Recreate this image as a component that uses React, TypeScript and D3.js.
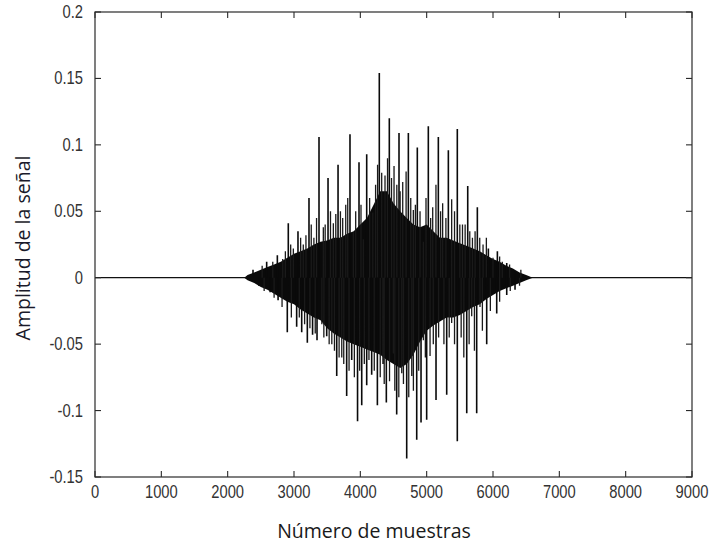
import React, { useEffect, useRef } from 'react'
import * as d3 from 'd3'

const xTicks = [0, 1000, 2000, 3000, 4000, 5000, 6000, 7000, 8000, 9000]
const yTicks = [-0.15, -0.1, -0.05, 0, 0.05, 0.1, 0.15, 0.2]

// dense part of the signal, read every 100 samples
const bodySamples = [
  2250, 2300, 2400, 2500, 2600, 2700, 2800, 2900, 3000, 3100, 3200, 3300, 3400, 3500, 3600,
  3700, 3800, 3900, 4000, 4100, 4200, 4300, 4400, 4500, 4600, 4700, 4800, 4900, 5000, 5100,
  5200, 5300, 5400, 5500, 5600, 5700, 5800, 5900, 6000, 6100, 6200, 6300, 6400, 6500, 6600,
]
const bodyTop = [
  0, 0.002, 0.004, 0.006, 0.008, 0.01, 0.012, 0.015, 0.018, 0.02, 0.022, 0.025, 0.027, 0.028, 0.03,
  0.03, 0.033, 0.035, 0.04, 0.045, 0.055, 0.065, 0.065, 0.056, 0.05, 0.045, 0.04, 0.038, 0.04, 0.035,
  0.03, 0.03, 0.028, 0.026, 0.024, 0.022, 0.02, 0.017, 0.014, 0.012, 0.009, 0.007, 0.004, 0.002, 0,
]
const bodyBottom = [
  0, -0.002, -0.004, -0.007, -0.009, -0.012, -0.015, -0.018, -0.02, -0.024, -0.027, -0.03, -0.032, -0.038, -0.042,
  -0.045, -0.048, -0.05, -0.052, -0.054, -0.056, -0.058, -0.062, -0.065, -0.068, -0.065, -0.058, -0.048, -0.04, -0.036,
  -0.033, -0.03, -0.03, -0.028, -0.025, -0.022, -0.02, -0.016, -0.013, -0.01, -0.008, -0.006, -0.004, -0.002, 0,
]

// [sample, amplitude] of the pitch peaks
const peaksUp: [number, number][] = [
  [2382, 0.006], [2588, 0.012], [2749, 0.017], [2914, 0.041], [3060, 0.035], [3226, 0.06],
  [3377, 0.106], [3513, 0.075], [3664, 0.085], [3844, 0.108], [3980, 0.087], [4096, 0.093],
  [4286, 0.154], [4437, 0.12], [4583, 0.109], [4724, 0.109], [4859, 0.098], [5025, 0.114],
  [5176, 0.106], [5327, 0.096], [5462, 0.112], [5619, 0.069], [5764, 0.053], [5930, 0.022],
  [6066, 0.02], [6207, 0.011], [6332, 0.004],
]
const peaksUpMinor: [number, number][] = [
  [2520, 0.009], [2680, 0.012], [2830, 0.014], [2870, 0.02], [2950, 0.025], [2990, 0.022],
  [3100, 0.03], [3140, 0.025], [3180, 0.032], [3260, 0.04], [3300, 0.03], [3340, 0.045],
  [3442, 0.038], [3470, 0.04], [3550, 0.05], [3593, 0.041], [3630, 0.048], [3700, 0.05],
  [3734, 0.045], [3780, 0.055], [3810, 0.06], [3895, 0.034], [3930, 0.05], [4010, 0.055],
  [4045, 0.029], [4140, 0.06], [4187, 0.049], [4230, 0.07], [4260, 0.085], [4322, 0.079],
  [4372, 0.077], [4410, 0.09], [4470, 0.075], [4508, 0.084], [4550, 0.07], [4600, 0.065],
  [4639, 0.072], [4690, 0.08], [4760, 0.06], [4799, 0.051], [4830, 0.055], [4900, 0.05],
  [4950, 0.027], [4990, 0.06], [5060, 0.045], [5091, 0.053], [5140, 0.07], [5210, 0.05],
  [5241, 0.056], [5290, 0.045], [5377, 0.059], [5420, 0.05], [5500, 0.04], [5540, 0.04],
  [5580, 0.04], [5650, 0.035], [5690, 0.03], [5730, 0.035], [5800, 0.03], [5850, 0.025],
  [5900, 0.03], [6000, 0.015], [6100, 0.016], [6140, 0.012], [6250, 0.01], [6420, 0.006],
]
const peaksDown: [number, number][] = [
  [2470, -0.006], [2640, -0.011], [2760, -0.017], [2899, -0.041], [3040, -0.037], [3116, -0.041],
  [3201, -0.049], [3280, -0.043], [3347, -0.047], [3493, -0.044], [3644, -0.074], [3794, -0.089],
  [3870, -0.062], [3958, -0.108], [4021, -0.096], [4096, -0.081], [4171, -0.073], [4257, -0.096],
  [4392, -0.094], [4548, -0.103], [4699, -0.136], [4850, -0.122], [4915, -0.109], [5000, -0.107],
  [5141, -0.092], [5302, -0.088], [5462, -0.123], [5604, -0.102], [5754, -0.102], [5905, -0.05],
  [6056, -0.027], [6207, -0.013], [6332, -0.009],
]
const peaksDownMinor: [number, number][] = [
  [2550, -0.01], [2700, -0.015], [2820, -0.022], [2960, -0.03], [3080, -0.03], [3160, -0.035],
  [3240, -0.038], [3320, -0.042], [3420, -0.035], [3450, -0.045], [3530, -0.05], [3570, -0.05],
  [3610, -0.055], [3680, -0.06], [3720, -0.06], [3750, -0.065], [3830, -0.07], [3910, -0.075],
  [3990, -0.07], [4060, -0.065], [4130, -0.062], [4210, -0.07], [4300, -0.075], [4340, -0.065],
  [4360, -0.08], [4440, -0.078], [4498, -0.057], [4520, -0.085], [4580, -0.09], [4624, -0.072],
  [4650, -0.08], [4730, -0.09], [4775, -0.074], [4800, -0.085], [4880, -0.07], [4950, -0.047],
  [4980, -0.06], [5051, -0.059], [5100, -0.05], [5180, -0.045], [5260, -0.05], [5340, -0.045],
  [5377, -0.034], [5420, -0.05], [5520, -0.045], [5560, -0.06], [5640, -0.05], [5679, -0.029],
  [5720, -0.055], [5804, -0.022], [5840, -0.04], [5960, -0.025], [6100, -0.018], [6260, -0.01],
  [6400, -0.006],
]

const W = 711
const H = 550
const margin = { left: 95, right: 19, top: 12, bottom: 73 }
const tickFont = "'Liberation Sans', Arial, sans-serif"
const labelFont = "'Open Sans', 'Noto Sans', sans-serif"

export default function App() {
  const ref = useRef<SVGSVGElement>(null)

  useEffect(() => {
    const svg = d3.select(ref.current)
    svg.selectAll('*').remove()

    const x = d3.scaleLinear().domain([0, 9000]).range([margin.left, W - margin.right])
    const y = d3.scaleLinear().domain([-0.15, 0.2]).range([H - margin.bottom, margin.top])
    const [x0, x1] = x.range()
    const [y0, y1] = y.range()

    svg.append('rect').attr('width', W).attr('height', H).attr('fill', '#fff')

    // flat line where there is no sound
    svg.append('path')
      .attr('d', d3.line()([[x(0), y(0)], [x(9000), y(0)]]))
      .attr('stroke', '#111')
      .attr('stroke-width', 1.3)

    const area = d3.area<number>()
      .x((d, i) => x(bodySamples[i]))
      .y0((d, i) => y(bodyBottom[i]))
      .y1(d => y(d))
    svg.append('path').attr('d', area(bodyTop)).attr('fill', '#0a0a0a')

    const spikes = (list: [number, number][]) =>
      list.map(([s, v]) => `M${x(s)},${y(0)}V${y(v)}`).join('')

    svg.append('path').attr('d', spikes([...peaksUpMinor, ...peaksDownMinor]))
      .attr('stroke', '#1a1a1a').attr('stroke-width', 1.3).attr('fill', 'none')
    svg.append('path').attr('d', spikes([...peaksUp, ...peaksDown]))
      .attr('stroke', '#0a0a0a').attr('stroke-width', 1.6).attr('fill', 'none')

    // box with inward ticks on all four sides
    svg.append('rect')
      .attr('x', x0).attr('y', y1)
      .attr('width', x1 - x0).attr('height', y0 - y1)
      .attr('fill', 'none').attr('stroke', '#2a2a2a').attr('stroke-width', 1.2)

    const tl = 6
    const ticks = svg.append('g').attr('stroke', '#2a2a2a').attr('stroke-width', 1.1)
    xTicks.forEach(t => {
      ticks.append('line').attr('x1', x(t)).attr('x2', x(t)).attr('y1', y0).attr('y2', y0 - tl)
      ticks.append('line').attr('x1', x(t)).attr('x2', x(t)).attr('y1', y1).attr('y2', y1 + tl)
    })
    yTicks.forEach(t => {
      ticks.append('line').attr('x1', x0).attr('x2', x0 + tl).attr('y1', y(t)).attr('y2', y(t))
      ticks.append('line').attr('x1', x1).attr('x2', x1 - tl).attr('y1', y(t)).attr('y2', y(t))
    })

    // narrow tick labels, like the MATLAB export
    svg.append('g')
      .selectAll('text')
      .data(xTicks)
      .join('text')
      .attr('transform', d => `translate(${x(d)}, ${y0 + 21}) scale(0.82, 1)`)
      .attr('text-anchor', 'middle')
      .style('font-family', tickFont)
      .style('font-size', '18px')
      .attr('fill', '#333')
      .text(d => String(d))

    svg.append('g')
      .selectAll('text')
      .data(yTicks)
      .join('text')
      .attr('transform', d => `translate(${x0 - 12}, ${y(d) + 6}) scale(0.82, 1)`)
      .attr('text-anchor', 'end')
      .style('font-family', tickFont)
      .style('font-size', '18px')
      .attr('fill', '#333')
      .text(d => String(+d.toFixed(2)))

    svg.append('text')
      .attr('x', 374)
      .attr('y', 538)
      .attr('text-anchor', 'middle')
      .style('font-family', labelFont)
      .style('font-size', '19.5px')
      .attr('fill', '#1a1a1a')
      .text('Número de muestras')

    svg.append('text')
      .attr('transform', 'translate(30, 248) rotate(-90)')
      .attr('text-anchor', 'middle')
      .style('font-family', labelFont)
      .style('font-size', '19.5px')
      .attr('fill', '#1a1a2a')
      .text('Amplitud de la señal')
  }, [])

  return (
    <svg ref={ref} width={W} height={H} style={{ position: 'absolute', left: 0, top: 0 }} />
  )
}
